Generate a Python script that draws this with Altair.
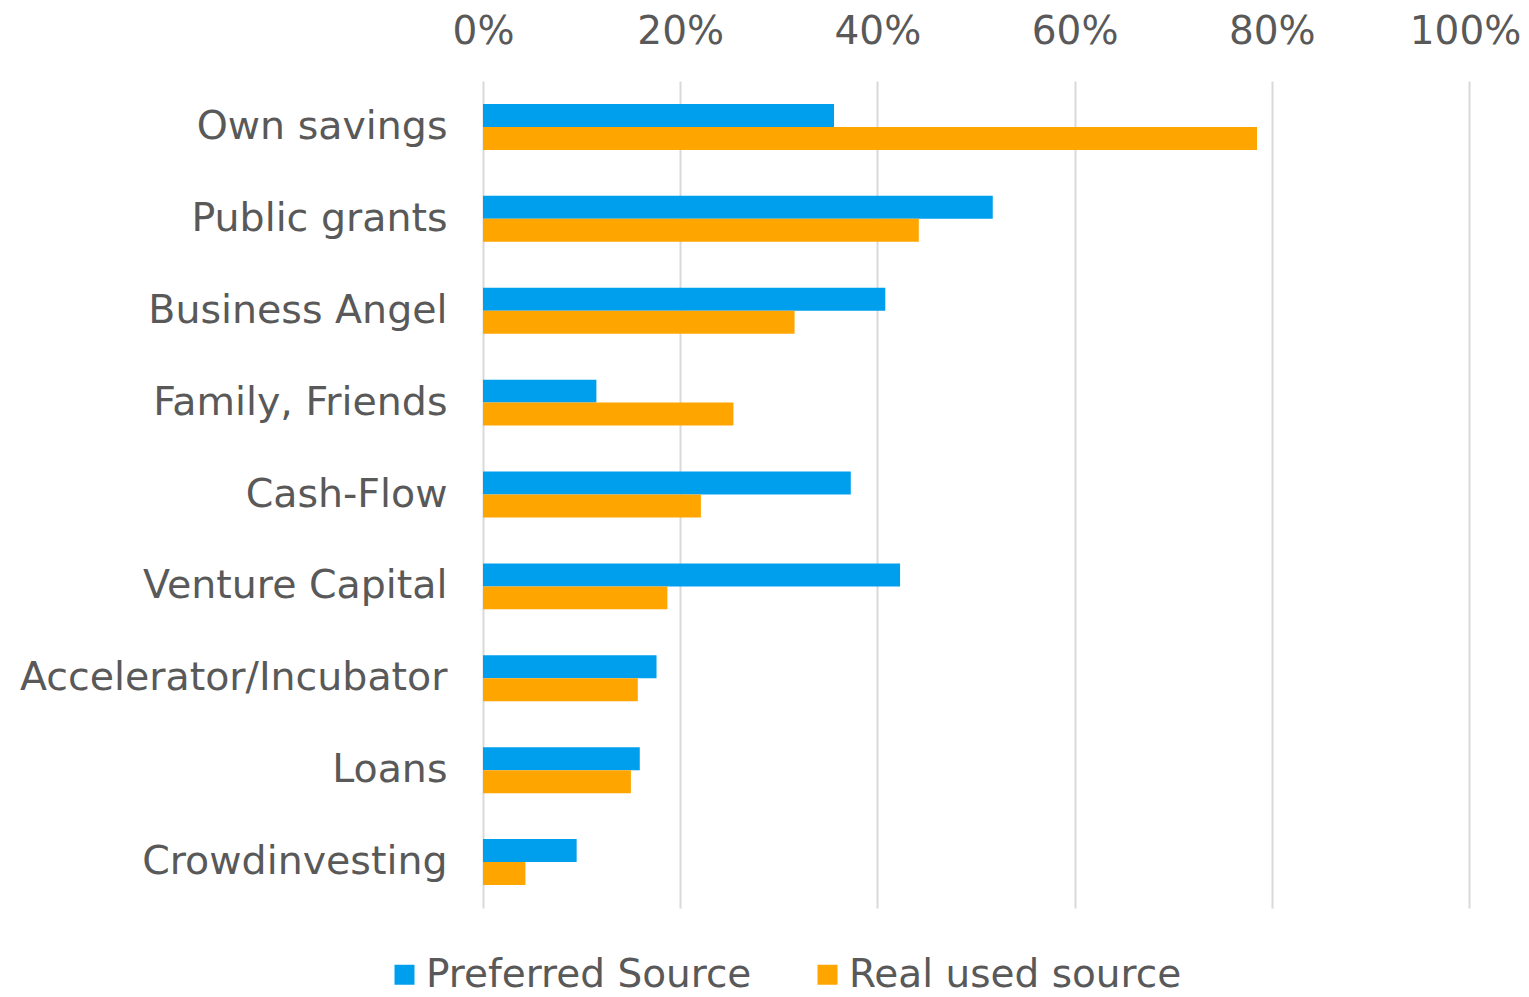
import altair as alt
import pandas as pd

categories = ["Own savings", "Public grants", "Business Angel", "Family, Friends",
              "Cash-Flow", "Venture Capital", "Accelerator/Incubator", "Loans", "Crowdinvesting"]
series = ["Preferred Source", "Real used source"]
preferred = [0.356, 0.517, 0.408, 0.115, 0.373, 0.423, 0.176, 0.159, 0.095]
real_used = [0.785, 0.442, 0.316, 0.254, 0.221, 0.187, 0.157, 0.150, 0.043]
x_ticks = [0, 0.2, 0.4, 0.6, 0.8, 1.0]
colors = ["#009FEE", "#FFA500"]

rows = []
for c, p, r in zip(categories, preferred, real_used):
    rows.append({"category": c, "series": series[0], "value": p})
    rows.append({"category": c, "series": series[1], "value": r})
df = pd.DataFrame(rows)

FONT = "DejaVu Sans"
TXT = "#595959"

chart = alt.Chart(df).mark_bar().encode(
    y=alt.Y("category:N", sort=categories, title=None,
            scale=alt.Scale(paddingInner=0.5, paddingOuter=0.25),
            axis=alt.Axis(ticks=False, domain=False, labelFont=FONT, labelFontSize=39.5,
                          labelColor=TXT, labelPadding=36, labelLimit=600)),
    yOffset=alt.YOffset("series:N", sort=series),
    x=alt.X("value:Q", title=None, scale=alt.Scale(domain=[0, 1], nice=False),
            axis=alt.Axis(orient="top", values=x_ticks, format=".0%", ticks=False, tickSize=0,
                          domain=False, labelFont=FONT, labelFontSize=39, labelColor=TXT,
                          labelPadding=38, labelBaseline="alphabetic",
                          labelOffset=alt.condition("datum.value == 1", alt.value(-4), alt.value(0)),
                          gridColor="#d9d9d9", gridWidth=2, labelFlush=False)),
    color=alt.Color("series:N", sort=series, title=None,
                    scale=alt.Scale(domain=series, range=colors),
                    legend=alt.Legend(orient="none", direction="horizontal",
                                      legendX=-98, legendY=874,
                                      symbolType="square", symbolSize=400,
                                      symbolStrokeWidth=0, labelFont=FONT,
                                      labelFontSize=39, labelColor=TXT,
                                      labelOffset=2, columnPadding=56, labelLimit=600)),
).properties(
    width=986, height=827,
    autosize=alt.AutoSizeParams(type="none"),
    padding={"left": 475, "top": 73, "right": 52, "bottom": 81},
).configure_view(stroke=None)

chart.save("out.html", embed_options={"renderer": "svg", "actions": False})
